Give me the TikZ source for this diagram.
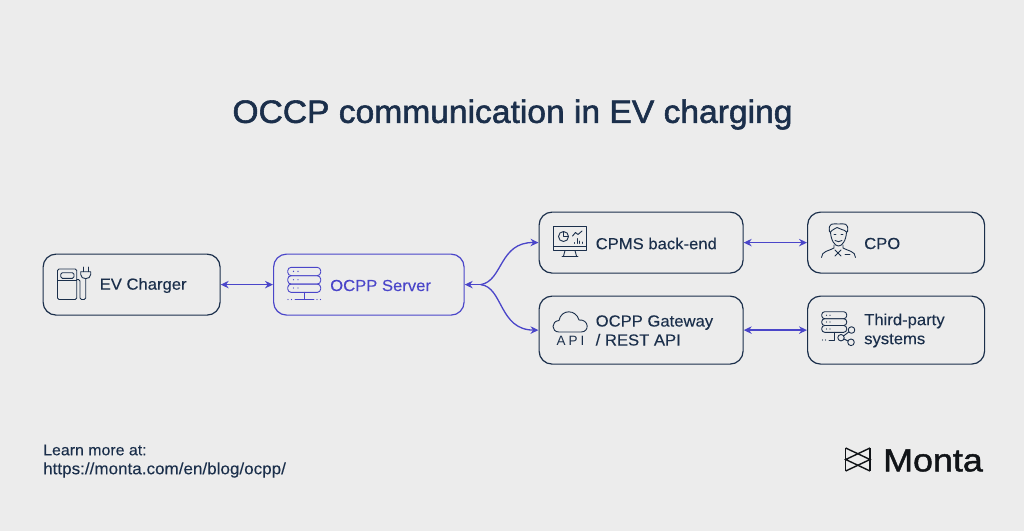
\documentclass[tikz,border=0pt]{standalone}
\usepackage{fontspec}
\setmainfont{Liberation Sans}[FakeStretch=1.04,FakeBold=0.15]
\newfontfamily\titlefont{Liberation Sans}[FakeStretch=1.04,FakeBold=1.7]
\newfontfamily\logofont{Liberation Sans}[FakeStretch=1.12,FakeBold=1.4]
\newfontfamily\apifont{Liberation Sans}[LetterSpace=22]
\usetikzlibrary{arrows.meta,calc}
\definecolor{bgc}{HTML}{ECECEC}
\definecolor{navy}{HTML}{1B2F4B}
\definecolor{vio}{HTML}{4A45C9}
\definecolor{mk}{HTML}{111418}
\tikzset{
 box/.style={draw=navy,line width=1.2pt,rounded corners=13pt,inner sep=0pt,anchor=north west},
 violetbox/.style={box,draw=vio},
 lab/.style={anchor=west,text=navy,font=\fontsize{16}{19}\selectfont,align=left,inner sep=0pt},
 link/.style={draw=vio,line width=1.3pt,{Stealth[length=8pt,width=7.5pt]}-{Stealth[length=8pt,width=7.5pt]}},
 curvelink/.style={draw=vio,line width=1.3pt,-{Stealth[length=8pt,width=7.5pt]}},
 ico/.style={draw=navy,line width=.9pt,line cap=round,line join=round,fill=none},
 icv/.style={draw=vio,line width=.9pt,line cap=round,line join=round,fill=none},
}
\begin{document}
\begin{tikzpicture}[x=1pt,y=-1pt]
\path[fill=bgc] (0,0) rectangle (1024,531);
\useasboundingbox (0,0) rectangle (1024,531);
\node[anchor=center,text=navy,inner sep=0pt,font=\titlefont\fontsize{32.3}{38}\selectfont] (title) at (512.5,114.5) {OCCP communication in EV charging};
% boxes
\node[box,minimum width=177pt,minimum height=61pt] (ev) at (42.5,253.5) {};
\node[violetbox,minimum width=190.5pt,minimum height=61pt] (srv) at (273,253.5) {};
\node[box,minimum width=204pt,minimum height=61pt] (cpms) at (538.5,211.5) {};
\node[box,minimum width=204pt,minimum height=68pt] (gw) at (538.5,295.5) {};
\node[box,minimum width=177pt,minimum height=61pt] (cpo) at (807,211.5) {};
\node[box,minimum width=177pt,minimum height=68pt] (tp) at (807,295.5) {};
% labels
\node[lab] (l1) at (99.5,285.5) {EV Charger};
\node[lab,text=vio] (l2) at (330,285.5) {OCPP Server};
\node[lab] (l3) at (595.5,243.5) {CPMS back-end};
\node[lab] (l4) at (595.5,330.5) {OCPP Gateway\\/ REST API};
\node[lab] (l5) at (864,243.5) {CPO};
\node[lab] (l6) at (864,330.5) {Third-party\\systems};
% connectors
\draw[link] (ev.east) -- (srv.west);
\draw[link] (cpms.east) -- (cpo.west);
\draw[link] (gw.east) -- (tp.west);
\coordinate (fork) at ($(srv.east)+(16,0)$);
\draw[curvelink] (fork) ..controls (503,281) and (499,242) .. (cpms.west);
\draw[curvelink] (fork) ..controls (503,287) and (499,330) .. (gw.west);
\draw[curvelink] (fork) -- (srv.east);
% EV icon
\begin{scope}[ico]
\draw[rounded corners=1.5pt] (57.5,269) rectangle (76.7,299.5);
\draw (57.5,280.7) -- (76.7,280.7);
\draw[rounded corners=1.5pt] (60.7,272.7) rectangle (74,278.3);
\draw[rounded corners=1.5pt] (76.7,279.5) -- (80,279.5) -- (80,299.5) -- (85.7,299.5) -- (85.7,278.5);
\draw (80.7,271.7) -- (90.7,271.7) -- (90.7,274.5) .. controls (90.7,280) and (80.7,280) .. (80.7,274.5) -- cycle;
\draw (83.3,271.7) -- (83.3,267) (88.3,271.7) -- (88.3,267);
\end{scope}
% server icon
\begin{scope}[icv]
\foreach \y in {267.3,275.7,284}{
\draw[rounded corners=3.5pt] (287.7,\y) rectangle (320.7,\y+8.4);
\fill[vio] (293.5,\y+4) circle (.7) (298,\y+4) circle (.7);
}
\draw (304.5,292.4) -- (304.5,299.5);
\draw (295,299.5) -- (314,299.5);
\fill[vio] (288,299.5) circle (.7) (291.5,299.5) circle (.7) (317,299.5) circle (.7) (320.5,299.5) circle (.7);
\end{scope}
% monitor icon
\begin{scope}[ico]
\draw (553.5,226.5) rectangle (586.5,250.5);
\draw (553.5,246.5) -- (586.5,246.5);
\draw (565,250.5) -- (563.5,256) (575,250.5) -- (576.5,256) (562,256.5) -- (578,256.5);
\draw (563.5,236.5) circle (5);
\draw (563.5,231.5) -- (563.5,236.5) -- (568.5,236.5);
\draw (572.5,236) -- (575.5,232.5) -- (578,234.5) -- (582,231);
\draw (574,243.5) -- (574,242.5) (577,243.5) -- (577,238.5) (579.5,243.5) -- (579.5,241) (582,243.5) -- (582,242);
\end{scope}
% cloud icon
\begin{scope}[ico]
\draw (559,332) .. controls (551,332) and (551,321) .. (559,320.5) .. controls (561,309) and (576,309) .. (579,320) .. controls (589,319) and (590,332) .. (581,332) -- cycle;
\end{scope}
\node[anchor=center,text=navy,inner sep=0pt,font=\apifont\fontsize{13.5}{14}\selectfont] (api) at (570.5,340.5) {API};
% person icon
\begin{scope}[ico]
\draw (829.5,232) .. controls (828,222) and (833,224) .. (838.5,224) .. controls (844,224) and (849,222) .. (847.5,232);
\draw (830.5,232) .. controls (831,241) and (835,246) .. (838.5,246) .. controls (842,246) and (846,241) .. (846.5,232);
\draw (830.5,232) .. controls (833,229) and (835,229) .. (837,227.5) .. controls (840,230) and (844,229) .. (846.5,232);
\draw (835,240.5) .. controls (837,242) and (840,242) .. (842,240.5);
\draw (834,234.5) -- (836,234.5) (841,234.5) -- (843,234.5);
\draw (821.5,257.5) .. controls (821.5,251) and (829,251) .. (834,248) -- (834,245);
\draw (855.5,257.5) .. controls (855.5,251) and (848,251) .. (843,248) -- (843,245);
\draw (835,250) -- (841,256) (841,250) -- (835,256);
\draw (845,254.5) -- (850,254.5);
\end{scope}
% third-party icon
\begin{scope}[ico]
\draw[rounded corners=3pt] (821.7,311.7) rectangle (846.7,318.7);
\draw[rounded corners=3pt] (821.7,318.7) rectangle (846.7,325.5);
\draw[rounded corners=3pt] (821.7,325.5) rectangle (846.7,332.3);
\fill[navy] (826.5,315.2) circle (.6) (830,315.2) circle (.6) (826.5,322) circle (.6) (830,322) circle (.6) (826.5,329) circle (.6) (830,329) circle (.6);
\draw (834,332.3) -- (834,340) -- (829,340);
\fill[navy] (822.5,340) circle (.6) (825.5,340) circle (.6);
\draw (841,337.7) circle (3.2);
\draw (851.5,330) circle (3.3);
\draw (851,342.3) circle (3.3);
\draw (843.7,335.8) -- (848.7,332) (844,339) -- (848,341);
\end{scope}
% footer
\node[anchor=north west,text=navy,inner sep=0pt,align=left,font=\fontsize{15.3}{19}\selectfont] (foot) at (43,444.5) {Learn more at:\\\fontsize{16.4}{19}\selectfont https://monta.com/en/blog/ocpp/};
% logo
\begin{scope}[draw=mk,line width=1.4pt,line join=miter]
\draw (845.7,448) -- (845.7,471) (870,448) -- (870,471);
\draw (845.7,448) -- (870,459.5) -- (845.7,471);
\draw (870,448) -- (845.7,459.5) -- (870,471);
\end{scope}
\node[anchor=west,text=mk,inner sep=0pt,font=\logofont\fontsize{32}{36}\selectfont] (monta) at (883,460.5) {Monta};
\end{tikzpicture}
\end{document}
